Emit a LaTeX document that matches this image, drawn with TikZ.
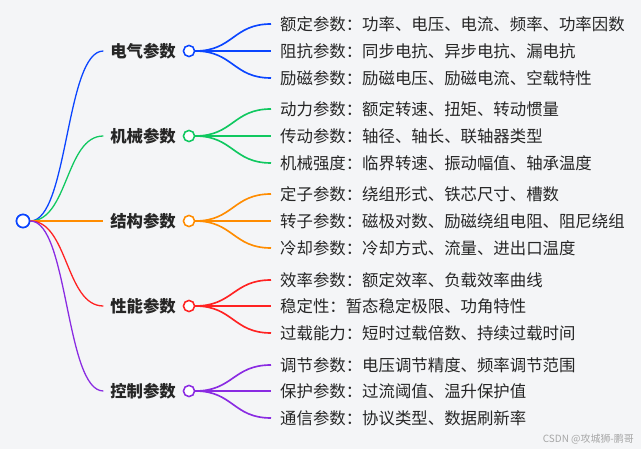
\documentclass[tikz,border=0pt]{standalone}
\usepackage{fontspec}
\setmainfont{Noto Sans CJK SC}
\usetikzlibrary{positioning}
\definecolor{MapBg}{HTML}{F4F5F7}
\definecolor{MapBlue}{HTML}{0A45FF}
\definecolor{MapGreen}{HTML}{10C860}
\definecolor{MapOrange}{HTML}{FF8C00}
\definecolor{MapRed}{HTML}{FF2222}
\definecolor{MapPurple}{HTML}{8A2BE2}
\definecolor{MapText}{HTML}{262626}

\begin{document}
\begin{tikzpicture}[x=0.3mm, y=-0.3mm, node distance=0pt,
    every node/.style={font=\fontsize{14}{16}\selectfont, text=MapText},
    hub/.style={circle,draw,fill=white,line width=1.4pt,inner sep=0pt,minimum size=3.9mm},
    dot/.style={circle,draw,fill=white,line width=1.2pt,inner sep=0pt,minimum size=3.3mm},
    topic/.style={font=\fontsize{14}{16}\selectfont\bfseries,inner xsep=2mm,inner ysep=1mm},
    leaf/.style={anchor=west,inner xsep=2.7mm,inner ysep=1mm},
    trunk/.style={line width=1.1pt},
    twig/.style={line width=1.4pt}]
    \fill[MapBg] (0,0) rectangle (641,449);
    \useasboundingbox (0,0) rectangle (641,449);

    % root and the five topics
    \node[hub,draw=MapBlue] (root) at (23,221) {};
    \node[dot,draw=MapBlue] (celec) at (189,51) {};
    \node[topic,left=of celec] (elec) {电气参数};
    \node[dot,draw=MapGreen] (cmech) at (189,136) {};
    \node[topic,left=of cmech] (mech) {机械参数};
    \node[dot,draw=MapOrange] (cstru) at (189,221) {};
    \node[topic,left=of cstru] (stru) {结构参数};
    \node[dot,draw=MapRed] (cperf) at (189,306) {};
    \node[topic,left=of cperf] (perf) {性能参数};
    \node[dot,draw=MapPurple] (cctrl) at (189,391) {};
    \node[topic,left=of cctrl] (ctrl) {控制参数};

    \draw[trunk,MapBlue] (root.east) .. controls +(38,0) and +(-38,0) .. (elec.west);
    \draw[trunk,MapGreen] (root.east) .. controls +(38,0) and +(-38,0) .. (mech.west);
    \draw[trunk,MapOrange] (root.east) -- (stru.west);
    \draw[trunk,MapRed] (root.east) .. controls +(38,0) and +(-38,0) .. (perf.west);
    \draw[trunk,MapPurple] (root.east) .. controls +(38,0) and +(-38,0) .. (ctrl.west);

    % leaves
    \node[leaf] (e1) at (271,24) {额定参数：功率、电压、电流、频率、功率因数};
    \node[leaf] (e2) at (271,51) {阻抗参数：同步电抗、异步电抗、漏电抗};
    \node[leaf] (e3) at (271,78) {励磁参数：励磁电压、励磁电流、空载特性};
    \node[leaf] (m1) at (271,109) {动力参数：额定转速、扭矩、转动惯量};
    \node[leaf] (m2) at (271,136) {传动参数：轴径、轴长、联轴器类型};
    \node[leaf] (m3) at (271,163) {机械强度：临界转速、振动幅值、轴承温度};
    \node[leaf] (s1) at (271,194) {定子参数：绕组形式、铁芯尺寸、槽数};
    \node[leaf] (s2) at (271,221) {转子参数：磁极对数、励磁绕组电阻、阻尼绕组};
    \node[leaf] (s3) at (271,248) {冷却参数：冷却方式、流量、进出口温度};
    \node[leaf] (p1) at (271,280) {效率参数：额定效率、负载效率曲线};
    \node[leaf] (p2) at (271,306) {稳定性：暂态稳定极限、功角特性};
    \node[leaf] (p3) at (271,333) {过载能力：短时过载倍数、持续过载时间};
    \node[leaf] (k1) at (271,365) {调节参数：电压调节精度、频率调节范围};
    \node[leaf] (k2) at (271,391) {保护参数：过流阈值、温升保护值};
    \node[leaf] (k3) at (271,418) {通信参数：协议类型、数据刷新率};

    \draw[twig,MapBlue] (celec.east) .. controls +(38,0) and +(-38,0) .. (e1.west);
    \draw[twig,MapBlue] (celec.east) -- (e2.west);
    \draw[twig,MapBlue] (celec.east) .. controls +(38,0) and +(-38,0) .. (e3.west);
    \draw[twig,MapGreen] (cmech.east) .. controls +(38,0) and +(-38,0) .. (m1.west);
    \draw[twig,MapGreen] (cmech.east) -- (m2.west);
    \draw[twig,MapGreen] (cmech.east) .. controls +(38,0) and +(-38,0) .. (m3.west);
    \draw[twig,MapOrange] (cstru.east) .. controls +(38,0) and +(-38,0) .. (s1.west);
    \draw[twig,MapOrange] (cstru.east) -- (s2.west);
    \draw[twig,MapOrange] (cstru.east) .. controls +(38,0) and +(-38,0) .. (s3.west);
    \draw[twig,MapRed] (cperf.east) .. controls +(38,0) and +(-38,0) .. (p1.west);
    \draw[twig,MapRed] (cperf.east) -- (p2.west);
    \draw[twig,MapRed] (cperf.east) .. controls +(38,0) and +(-38,0) .. (p3.west);
    \draw[twig,MapPurple] (cctrl.east) .. controls +(38,0) and +(-38,0) .. (k1.west);
    \draw[twig,MapPurple] (cctrl.east) -- (k2.west);
    \draw[twig,MapPurple] (cctrl.east) .. controls +(38,0) and +(-38,0) .. (k3.west);

    % redraw circles over the line ends
    \node[hub,draw=MapBlue] at (root) {};
    \node[dot,draw=MapBlue] at (celec) {};
    \node[dot,draw=MapGreen] at (cmech) {};
    \node[dot,draw=MapOrange] at (cstru) {};
    \node[dot,draw=MapRed] at (cperf) {};
    \node[dot,draw=MapPurple] at (cctrl) {};

    \node[anchor=east,font=\fontsize{8.5}{10}\selectfont,text=gray!70] (mark) at (638,439) {CSDN @攻城狮-鹏哥};
\end{tikzpicture}
\end{document}
